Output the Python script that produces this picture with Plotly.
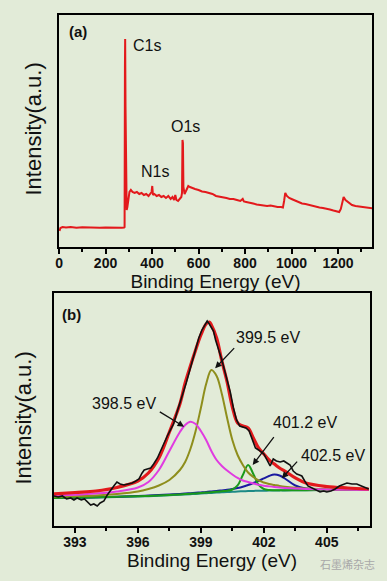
import plotly.graph_objects as go

# ---------------- Panel (a): XPS survey ----------------
survey_ev = [2, 6, 15, 30, 50, 75, 100, 125, 150, 175, 200, 225, 250, 270, 280, 282, 283.5, 284.5, 286, 288,
             291, 294, 298, 303, 309, 316, 325, 335, 345, 355, 365, 375, 385, 393, 398, 401, 404, 410, 420, 430,
             440, 450, 460, 470, 480, 488, 495, 500, 505, 512, 520, 526, 529, 531, 533, 535, 540, 548, 556, 563,
             572, 585, 600, 615, 630, 645, 660, 675, 690, 705, 720, 735, 750, 765, 780, 790, 795, 805, 820, 835,
             850, 865, 880, 895, 910, 925, 940, 955, 963, 968, 973, 980, 990, 1000, 1015, 1030, 1045, 1060, 1075,
             1090, 1105, 1120, 1135, 1150, 1165, 1180, 1195, 1205, 1212, 1218, 1224, 1232, 1245, 1260, 1275, 1290,
             1305, 1320, 1335, 1350]
survey_int = [16, 19, 20, 19.5, 20, 19.3, 19.8, 19.4, 19.7, 19.2, 19.6, 19.3, 19.5, 19.3, 19.5, 20, 180, 208, 140, 60,
              37, 40, 48, 55, 57, 55, 54, 55, 53, 54, 52, 53, 51, 53, 55, 61, 52, 53, 51, 52,
              50, 51, 49, 51, 48, 50, 47, 52, 47, 46, 48, 50, 54, 107, 104, 60, 53, 57, 61, 60,
              59, 58, 57, 55.5, 55, 54, 53, 51, 50.5, 50, 49, 48, 48, 47, 46, 48, 45.5, 45, 44.5, 43.5,
              42.5, 42, 41.5, 41, 41.5, 40.5, 40, 40, 39.5, 46, 54, 51, 49, 48, 46.5, 45, 43.5, 43, 42,
              41, 40.5, 39.5, 39, 38.5, 37.5, 36.5, 35.5, 35, 38, 46, 50, 47, 44.5, 42, 41, 40.5,
              40, 39, 39, 38.5]
survey_labels = ["C1s", "N1s", "O1s"]
survey_x_ticks = [0, 200, 400, 600, 800, 1000, 1200]

# ---------------- Panel (b): N1s high resolution ----------------
raw_ev = [392.0, 392.2, 392.4, 392.6, 392.8, 392.95, 393.1, 393.3, 393.45, 393.6, 393.75, 393.9, 394.06, 394.2,
          394.38, 394.54, 394.7, 394.85, 395.0, 395.15, 395.34, 395.5, 395.73, 395.9, 396.05, 396.2, 396.3, 396.45,
          396.61, 396.75, 396.93, 397.1, 397.24, 397.4, 397.55, 397.7, 397.85, 398.0, 398.15, 398.3, 398.45, 398.6,
          398.75, 398.9, 399.05, 399.2, 399.3, 399.4, 399.5, 399.6, 399.7, 399.8, 399.9, 400.0, 400.1, 400.25,
          400.4, 400.55, 400.7, 400.85, 401.0, 401.15, 401.3, 401.45, 401.6, 401.75, 401.9, 402.0, 402.15, 402.3,
          402.45, 402.6, 402.78, 402.95, 403.1, 403.25, 403.4, 403.57, 403.7, 403.81, 403.95, 404.1, 404.3, 404.5,
          404.68, 404.85, 405.0, 405.2, 405.4, 405.6, 405.8, 405.96, 406.2, 406.43, 406.65, 406.9, 407.0]
raw_int = [30, 29, 30, 27, 28, 26, 28, 26, 27, 24, 21, 22, 20, 23,
           25, 31, 36, 40, 44, 42, 41, 42, 43, 45, 47, 53, 56, 57,
           58, 62, 68, 76, 83, 90, 96, 102, 113, 124, 133, 143, 154, 166,
           178, 188, 196, 201, 205, 202, 199, 195, 186, 180, 174, 166, 158, 146,
           134, 118, 106, 100, 99, 98, 95, 86, 78, 76, 74, 72, 66, 60,
           67, 65, 64, 65, 63, 61, 55, 52, 51, 50, 45, 40, 38, 36,
           34, 35, 34, 35, 37, 40, 42, 43, 42, 42, 40, 38, 37]

env_ev = [392, 393, 394, 395, 396, 396.5, 397, 397.5, 398, 398.25, 398.5, 398.75, 399, 399.25, 399.4, 399.5,
          399.75, 400, 400.25, 400.5, 400.75, 401, 401.25, 401.5, 401.75, 402, 402.25, 402.5, 402.75, 403,
          403.5, 404, 405, 406, 407]
env_int = [32, 33.5, 35, 38.5, 45, 53, 68, 94, 122, 143, 160, 176, 191, 202, 204, 201,
           188, 165, 144, 119, 103, 100, 98, 88, 78, 72, 66, 62, 58, 55,
           48, 43, 39.5, 38, 37]

comp_ev = [392, 393, 394, 395, 396, 396.5, 397, 397.5, 398, 398.25, 398.5, 398.75, 399, 399.25, 399.5, 399.75,
           400, 400.25, 400.5, 400.75, 401, 401.25, 401.5, 401.75, 402, 402.25, 402.5, 402.75, 403, 403.5,
           404, 405, 406, 407]
background_int = [28, 28.2, 28.5, 29, 29.5, 29.8, 30.2, 30.7, 31.2, 31.5, 31.8, 32.1, 32.5, 32.8, 33.1, 33.4,
                  33.7, 34, 34.2, 34.5, 34.7, 34.9, 35.1, 35.2, 35.3, 35.4, 35.5, 35.6, 35.6, 35.7,
                  35.8, 35.9, 36, 36]
peak_4025_int = [28, 28.3, 28.7, 29.3, 30, 30.4, 30.9, 31.5, 32.1, 32.4, 32.8, 33.2, 33.6, 34, 34.5, 35,
                 35.6, 36.2, 37, 38, 39.3, 41, 43, 45.2, 47.6, 50, 51.5, 50.5, 47.5, 40.5,
                 37.5, 36.3, 36.1, 36]
peak_4012_int = [28.1, 28.3, 28.7, 29.2, 29.8, 30.1, 30.5, 31, 31.6, 31.9, 32.2, 32.6, 33, 33.4, 33.8, 34.3,
                 34.8, 35.3, 36.5, 40.5, 51, 61, 52, 41, 37, 36, 35.8, 35.7, 35.7, 35.8,
                 35.8, 35.9, 36, 36]
peak_3995_int = [29.3, 29.8, 30.5, 32, 34.5, 37, 40.5, 46, 56, 64, 77, 95, 118, 142, 156, 150,
                 132, 108, 86, 71, 61, 53.5, 49, 45.5, 43.5, 42, 41, 40, 39.2, 38.2,
                 37.5, 36.8, 36.4, 36.2]
peak_3985_int = [30.5, 31.3, 32.5, 34.5, 38.5, 44, 56, 75, 94, 101, 104.3, 102, 95, 86, 75, 66,
                 60, 55.5, 51.5, 48, 45.5, 44, 42.5, 41.3, 40.3, 39.6, 39, 38.5, 38.1, 37.5,
                 37, 36.5, 36.2, 36]
peak_labels = ["398.5 eV", "399.5 eV", "401.2 eV", "402.5 eV"]
hr_x_ticks = [393, 396, 399, 402, 405]

FONT = "Liberation Sans, Arial, sans-serif"
BG = "#e2ebd8"

fig = go.Figure()

fig.add_trace(go.Scatter(x=survey_ev, y=survey_int, mode="lines", line=dict(color="#e3191c", width=2),
                         xaxis="x", yaxis="y", showlegend=False))

fig.add_trace(go.Scatter(x=comp_ev, y=background_int, mode="lines", line=dict(color="#1c8a86", width=2, shape="spline"),
                         xaxis="x2", yaxis="y2", showlegend=False))
fig.add_trace(go.Scatter(x=comp_ev, y=peak_4025_int, mode="lines", line=dict(color="#1a1aa0", width=2, shape="spline"),
                         xaxis="x2", yaxis="y2", showlegend=False))
fig.add_trace(go.Scatter(x=comp_ev, y=peak_4012_int, mode="lines", line=dict(color="#1a9a1a", width=2, shape="spline"),
                         xaxis="x2", yaxis="y2", showlegend=False))
fig.add_trace(go.Scatter(x=comp_ev, y=peak_3995_int, mode="lines", line=dict(color="#8e8e1c", width=2, shape="spline"),
                         xaxis="x2", yaxis="y2", showlegend=False))
fig.add_trace(go.Scatter(x=comp_ev, y=peak_3985_int, mode="lines", line=dict(color="#e03ce0", width=2, shape="spline"),
                         xaxis="x2", yaxis="y2", showlegend=False))
fig.add_trace(go.Scatter(x=env_ev, y=env_int, mode="lines", line=dict(color="#e3191c", width=3.2, shape="spline"),
                         xaxis="x2", yaxis="y2", showlegend=False))
fig.add_trace(go.Scatter(x=raw_ev, y=raw_int, mode="lines", line=dict(color="#111111", width=1.6),
                         xaxis="x2", yaxis="y2", showlegend=False))

axis_common = dict(showline=True, mirror=True, linecolor="black", linewidth=2, showgrid=False, zeroline=False,
                   automargin=False)
xtick_common = dict(ticks="outside", ticklen=5, tickwidth=1.5, tickcolor="black", ticklabelstandoff=-3,
                    tickfont=dict(family=FONT, size=14, color="#111", weight="bold"))

fig.update_layout(
    width=387, height=581,
    autosize=False,
    margin=dict(l=0, r=0, t=0, b=0, pad=0, autoexpand=False),
    paper_bgcolor=BG, plot_bgcolor=BG,
    font=dict(family=FONT, color="#111"),
    xaxis=dict(domain=[0.1525, 0.9612], anchor="y", range=[0, 1346], tickvals=survey_x_ticks,
               minor=dict(dtick=100, tick0=0, ticks="outside", ticklen=3, tickwidth=1.5, tickcolor="black"),
               title=dict(text="Binding Energy (eV)", font=dict(family=FONT, size=19, color="#111"), standoff=0),
               **axis_common, **xtick_common),
    yaxis=dict(domain=[0.5749, 0.9742], anchor="x", range=[0, 232], showticklabels=False, ticks="",
               **axis_common),
    xaxis2=dict(domain=[0.1395, 0.9561], anchor="y2", range=[392.0, 407.06], tickvals=hr_x_ticks,
                minor=dict(dtick=1.5, tick0=393, ticks="outside", ticklen=3, tickwidth=1.5, tickcolor="black"),
                title=dict(text="Binding Energy (eV)", font=dict(family=FONT, size=19, color="#111"), standoff=1),
                **axis_common, **xtick_common),
    yaxis2=dict(domain=[0.0947, 0.4957], anchor="x2", range=[0, 233], showticklabels=False, ticks="",
                **axis_common),
)

ann_font = dict(family=FONT, size=16, color="#111")
annotations = [
    dict(x=0.086, y=0.7776, xref="paper", yref="paper", xanchor="center", yanchor="middle",
         text="Intensity(a.u.)", textangle=-90, showarrow=False, font=dict(family=FONT, size=22, color="#111")),
    dict(x=0.060, y=0.280, xref="paper", yref="paper", xanchor="center", yanchor="middle",
         text="Intensity(a.u.)", textangle=-90, showarrow=False, font=dict(family=FONT, size=22, color="#111")),
    dict(x=82, y=215, xref="x", yref="y", text="<b>(a)</b>", showarrow=False, font=dict(family=FONT, size=15, color="#111")),
    dict(x=392.84, y=211, xref="x2", yref="y2", text="<b>(b)</b>", showarrow=False, font=dict(family=FONT, size=15, color="#111")),
    dict(x=310, y=201, xref="x", yref="y", text=survey_labels[0], xanchor="left", showarrow=False, font=ann_font),
    dict(x=413, y=75, xref="x", yref="y", text=survey_labels[1], showarrow=False, font=ann_font),
    dict(x=542, y=120, xref="x", yref="y", text=survey_labels[2], showarrow=False, font=ann_font),
    dict(x=395.36, y=122.7, xref="x2", yref="y2", text=peak_labels[0], showarrow=False, font=ann_font),
    dict(x=402.18, y=188.3, xref="x2", yref="y2", text=peak_labels[1], showarrow=False, font=ann_font),
    dict(x=403.97, y=103.7, xref="x2", yref="y2", text=peak_labels[2], showarrow=False, font=ann_font),
    dict(x=405.32, y=70.3, xref="x2", yref="y2", text=peak_labels[3], showarrow=False, font=ann_font),
    dict(x=0.975, y=0.029, xref="paper", yref="paper", text="石墨烯杂志", xanchor="right", yanchor="middle",
         showarrow=False, font=dict(family="Noto Sans CJK SC", size=11, color="#a8a8a8")),
]
arrows = [((398.2, 99.3), (396.9, 116)), ((399.68, 157.7), (400.73, 181)),
          ((401.47, 61), (402.62, 92.7)), ((402.86, 47.7), (403.73, 67.7))]
for (hx, hy), (tx, ty) in arrows:
    annotations.append(dict(x=hx, y=hy, ax=tx, ay=ty, xref="x2", yref="y2", axref="x2", ayref="y2",
                            text=" ", showarrow=True, arrowhead=2, arrowsize=1, arrowwidth=1.3,
                            arrowcolor="#111", standoff=0, startstandoff=0))
fig.update_layout(annotations=annotations)

fig.write_html("out.html", config={"displayModeBar": False},
               post_script="document.body.style.margin='0';document.body.style.overflow='hidden';")
